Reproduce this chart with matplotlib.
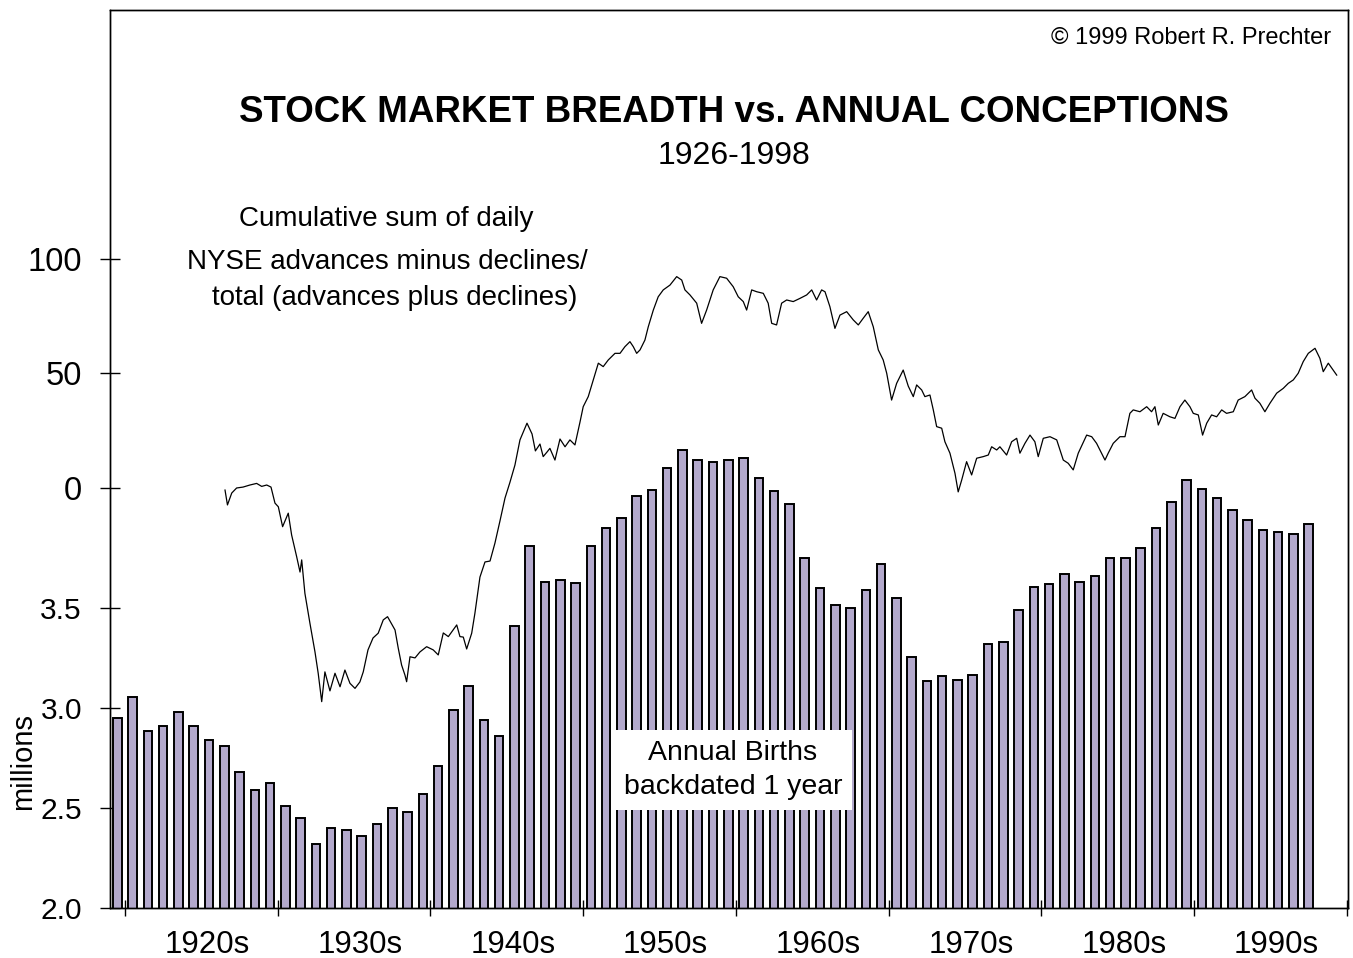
import matplotlib
matplotlib.use("Agg")
import matplotlib.pyplot as plt
from matplotlib.ticker import FixedLocator, FixedFormatter, NullFormatter

plt.rcParams['font.family'] = ['Liberation Sans', 'DejaVu Sans']

# ---------------- data ----------------
# Annual births (millions), backdated one year: plotted year 1919..1997
birth_years = list(range(1919, 1998))
births = [2.95, 3.055, 2.885, 2.91, 2.98, 2.91, 2.84, 2.81, 2.68, 2.59,
          2.625, 2.51, 2.45, 2.32, 2.40, 2.39, 2.36, 2.42, 2.50, 2.48,
          2.57, 2.71, 2.99, 3.11, 2.94, 2.86, 3.41, 3.81, 3.63, 3.64,
          3.625, 3.81, 3.90, 3.95, 4.06, 4.09, 4.20, 4.29, 4.24, 4.23,
          4.24, 4.25, 4.15, 4.085, 4.02, 3.75, 3.60, 3.515, 3.50, 3.59,
          3.72, 3.55, 3.255, 3.135, 3.16, 3.14, 3.165, 3.32, 3.33, 3.49,
          3.605, 3.62, 3.67, 3.63, 3.66, 3.75, 3.75, 3.80, 3.90, 4.03,
          4.14, 4.095, 4.05, 3.99, 3.94, 3.89, 3.88, 3.87, 3.92]

# Cumulative NYSE breadth (traced)
breadth_years = [
    1926.55, 1926.71, 1926.99, 1927.31, 1927.73, 1928.18, 1928.62, 1928.95, 1929.28, 1929.56,
    1929.82, 1930.04, 1930.32, 1930.69, 1930.91, 1931.24, 1931.46, 1931.57, 1931.78, 1932.11,
    1932.44, 1932.65, 1932.88, 1933.09, 1933.42, 1933.75, 1934.08, 1934.40, 1934.73, 1935.06,
    1935.38, 1935.60, 1935.91, 1936.24, 1936.58, 1936.91, 1937.19, 1937.46, 1937.68, 1937.89,
    1938.11, 1938.33, 1938.44, 1938.66, 1938.99, 1939.31, 1939.75, 1940.18, 1940.51, 1940.84,
    1941.17, 1941.72, 1941.93, 1942.15, 1942.37, 1942.70, 1942.91, 1943.24, 1943.57, 1943.90,
    1944.22, 1944.55, 1944.88, 1945.20, 1945.53, 1945.86, 1946.32, 1946.65, 1946.87, 1947.17,
    1947.38, 1947.63, 1947.82, 1948.15, 1948.48, 1948.81, 1949.13, 1949.46, 1949.79, 1950.00,
    1950.33, 1950.66, 1950.99, 1951.31, 1951.64, 1952.08, 1952.41, 1952.73, 1953.06, 1953.28,
    1953.50, 1953.72, 1954.04, 1954.26, 1954.59, 1954.91, 1955.24, 1955.68, 1956.12, 1956.45,
    1956.66, 1956.99, 1957.43, 1957.75, 1958.08, 1958.51, 1958.95, 1959.39, 1959.82, 1960.15,
    1960.48, 1960.70, 1961.03, 1961.36, 1961.79, 1962.11, 1962.34, 1962.66, 1962.99, 1963.32,
    1963.75, 1964.19, 1964.63, 1964.96, 1965.28, 1965.61, 1965.83, 1966.15, 1966.48, 1966.81,
    1967.25, 1967.68, 1968.01, 1968.33, 1968.66, 1968.99, 1969.32, 1969.64, 1969.87, 1970.19,
    1970.52, 1970.95, 1971.28, 1971.61, 1971.83, 1972.16, 1972.37, 1972.70, 1972.92, 1973.14,
    1973.47, 1973.68, 1974.01, 1974.34, 1974.55, 1974.78, 1975.10, 1975.43, 1975.76, 1976.19,
    1976.52, 1976.74, 1977.07, 1977.28, 1977.72, 1978.05, 1978.38, 1978.59, 1978.92, 1979.25,
    1979.57, 1979.79, 1980.12, 1980.56, 1981.00, 1981.43, 1981.75, 1982.08, 1982.41, 1982.96,
    1983.29, 1983.61, 1983.83, 1984.16, 1984.37, 1984.70, 1985.14, 1985.47, 1985.79, 1986.01,
    1986.45, 1986.89, 1987.21, 1987.43, 1987.65, 1987.97, 1988.41, 1988.74, 1989.07, 1989.39,
    1989.72, 1989.94, 1990.27, 1990.55, 1990.82, 1991.14, 1991.47, 1991.80, 1992.12, 1992.56,
    1992.88, 1993.32, 1993.76, 1993.98, 1994.30, 1994.63, 1994.96, 1995.40, 1995.83, 1996.16,
    1996.49, 1996.81, 1997.14, 1997.47, 1997.91, 1998.23, 1998.45, 1998.78, 1999.10, 1999.33]
breadth_values = [
    -0.9, -7.4, -2.2, 0.0, 0.4, 1.3, 2.0, 0.7, 1.3, 0.4,
    -6.6, -8.2, -16.9, -11.0, -20.5, -30.0, -36.7, -31.4, -46.0, -59.1,
    -71.6, -80.9, -93.3, -80.3, -88.6, -80.9, -86.8, -79.5, -85.3, -87.5,
    -84.7, -80.3, -70.7, -65.5, -63.4, -57.6, -56.2, -59.4, -62.0, -69.9,
    -77.3, -81.7, -84.6, -73.7, -74.2, -71.6, -69.3, -70.7, -72.9, -63.3,
    -64.9, -59.8, -64.9, -65.1, -70.3, -63.4, -54.7, -38.9, -32.3, -31.9,
    -24.1, -14.4, -4.4, 2.4, 10.0, 21.0, 28.3, 23.6, 16.2, 19.2,
    13.7, 15.7, 17.3, 12.2, 21.4, 18.0, 21.0, 18.8, 28.8, 35.5,
    39.9, 47.2, 54.5, 53.0, 55.9, 58.8, 58.8, 61.7, 63.9, 61.7,
    58.8, 60.3, 64.6, 70.4, 77.7, 83.5, 86.5, 88.6, 92.3, 90.8,
    86.5, 84.3, 80.7, 71.9, 77.7, 86.5, 92.3, 91.6, 87.9, 83.5,
    81.4, 77.7, 86.5, 85.7, 85.0, 80.7, 71.9, 71.2, 80.7, 82.1,
    81.4, 82.8, 84.3, 86.5, 82.1, 86.5, 85.7, 79.2, 69.7, 75.5,
    77.0, 73.4, 71.2, 74.1, 77.0, 70.4, 60.3, 55.9, 50.1, 38.4,
    45.7, 51.5, 44.5, 39.9, 45.0, 42.8, 39.9, 40.6, 34.1, 26.8,
    26.1, 20.2, 15.2, 6.4, -1.7, 3.5, 11.5, 5.7, 13.0, 13.7,
    14.4, 18.0, 16.6, 18.0, 14.4, 20.2, 21.7, 15.2, 19.5, 23.1,
    20.2, 13.7, 21.7, 22.4, 21.0, 12.2, 10.8, 7.9, 15.2, 23.1,
    22.4, 19.5, 16.6, 12.2, 15.2, 19.5, 22.4, 22.4, 32.6, 34.1,
    33.3, 35.5, 33.3, 35.5, 27.5, 32.6, 31.1, 30.4, 35.5, 38.4,
    35.5, 32.6, 31.9, 23.1, 28.3, 31.9, 31.1, 34.1, 32.6, 33.3,
    38.4, 39.9, 42.8, 39.2, 37.0, 33.3, 37.0, 41.4, 43.5, 45.7,
    47.2, 50.1, 55.2, 58.8, 61.0, 56.6, 50.8, 54.5, 51.5, 49.3]

decade_ticks = [1920, 1930, 1940, 1950, 1960, 1970, 1980, 1990, 2000]
decade_labels = ['1920s', '1930s', '1940s', '1950s', '1960s', '1970s', '1980s', '1990s']
birth_ticks = [2.0, 2.5, 3.0, 3.5]
breadth_ticks = [0, 50, 100]

# ---------------- figure ----------------
W, H = 1353, 958
fig = plt.figure(figsize=(W / 100, H / 100), dpi=100)
fig.patch.set_facecolor('white')


def fx(px):
    return px / W


def fy(py):
    return 1 - py / H


ax = fig.add_axes([fx(110), 50 / H, (1348 - 110) / W, (908 - 10) / H])
ax.bar([y + 0.5 for y in birth_years], births, width=0.56,
       color='#b3a9cc', edgecolor='black', linewidth=1.4, zorder=2)
ax.set_ylim(2.0, 6.49)
ax.set_xlim(1919.02, 2000.07)

ax.yaxis.set_major_locator(FixedLocator(birth_ticks))
ax.yaxis.set_major_formatter(FixedFormatter([f"{t:.1f}" for t in birth_ticks]))
ax.tick_params(axis='y', direction='inout', length=14.4, width=1.0,
               labelsize=21.5, pad=13)

ax.xaxis.set_major_locator(FixedLocator(decade_ticks))
ax.xaxis.set_major_formatter(NullFormatter())
ax.xaxis.set_minor_locator(FixedLocator([d + 5.4 for d in decade_ticks[:-1]]))
ax.xaxis.set_minor_formatter(FixedFormatter(decade_labels))
ax.tick_params(axis='x', which='major', direction='inout', length=12, width=1.0)
ax.tick_params(axis='x', which='minor', length=0, labelsize=22.5, pad=16)

for s in ax.spines.values():
    s.set_linewidth(1.0)
    s.set_color('black')

ax2 = ax.twinx()
ax2.plot(breadth_years, breadth_values, color='black', linewidth=0.9)
ax2.set_ylim(-183.41, 208.73)
ax2.yaxis.tick_left()
ax2.yaxis.set_major_locator(FixedLocator(breadth_ticks))
ax2.yaxis.set_major_formatter(FixedFormatter([str(t) for t in breadth_ticks]))
ax2.tick_params(axis='y', direction='inout', length=14.4, width=1.0,
                labelsize=23.5, pad=13, right=False, left=True)
for s in ax2.spines.values():
    s.set_linewidth(1.0)
    s.set_color('black')

# ---------------- texts ----------------
fig.text(fx(1331), fy(38), '\u00a9 1999 Robert R. Prechter', ha='right', va='center',
         fontsize=17)
fig.text(fx(734), fy(112), 'STOCK MARKET BREADTH vs. ANNUAL CONCEPTIONS',
         ha='center', va='center', fontsize=26.5, fontweight='bold')
fig.text(fx(734), fy(156), '1926-1998', ha='center', va='center', fontsize=23)

fig.text(fx(386), fy(219), 'Cumulative sum of daily', ha='center', va='center', fontsize=20)
fig.text(fx(387), fy(262), 'NYSE advances minus declines/', ha='center', va='center', fontsize=20)
fig.text(fx(395), fy(298), 'total (advances plus declines)', ha='center', va='center', fontsize=20)

fig.text(fx(733), fy(770), 'Annual Births\nbackdated 1 year', ha='center', va='center',
         fontsize=20.5, linespacing=1.38,
         bbox=dict(boxstyle='square,pad=0.35', facecolor='white', edgecolor='none'))

fig.text(fx(23), fy(762), 'millions', rotation=90, ha='center', va='center', fontsize=21)

fig.savefig('out.png', dpi=100)
